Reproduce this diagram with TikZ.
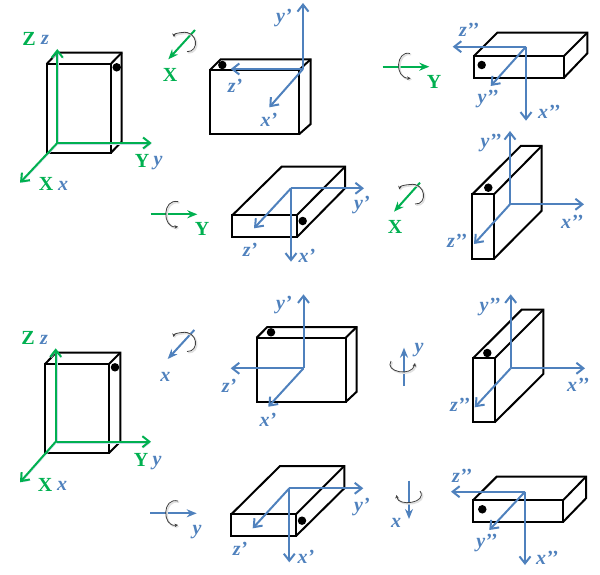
\documentclass[tikz,border=0pt]{standalone}
\usepackage{fontspec}
\setmainfont{Liberation Serif}
\usepackage{tikz}
\usetikzlibrary{arrows.meta}
\definecolor{axisgreen}{RGB}{0,176,80}
\definecolor{axisblue}{RGB}{79,129,189}
% front top-left x,y; front bottom-right x,y; back left x; back right x; back top y; back bottom y
\newcommand{\cuboid}[8]{
    \draw[edge] (#1,#2) rectangle (#3,#4);
    \draw[edge] (#1,#2) -- (#5,#7) -- (#6,#7) -- (#6,#8) -- (#3,#4);
    \draw[edge] (#3,#2) -- (#6,#7);
}
\begin{document}
\begin{tikzpicture}[x=1pt, y=-1pt,
        edge/.style={draw=black, line width=2pt, line join=miter},
        marker/.style={circle, fill=black, inner sep=0pt, minimum size=8.5pt},
        bluearr/.style={axisblue, line width=2pt, -{Straight Barb[length=7pt, width=11pt]}},
        greenarr/.style={axisgreen, line width=2pt, -{Straight Barb[length=7pt, width=11pt]},
            preaction={draw=axisblue!30, transform canvas={xshift=1pt, yshift=-1pt}}},
        bluerot/.style={axisblue, line width=2pt, -{Stealth[length=10pt, width=8pt]}},
        greenrot/.style={axisgreen, line width=2pt, -{Stealth[length=10pt, width=8pt]}},
        curl/.style={black!75, line width=0.8pt, -{Stealth[length=3.5pt, width=3.5pt]},
            preaction={draw=black!12, line width=1.6pt, transform canvas={xshift=1.2pt, yshift=-1.2pt}}},
        bluelbl/.style={font=\fontsize{20}{20}\selectfont\bfseries\itshape, text=axisblue, inner sep=0pt},
        greenlbl/.style={font=\fontsize{20}{20}\selectfont\bfseries, text=axisgreen, inner sep=0pt}
    ]
        \useasboundingbox (0,0) rectangle (600,575);

        % Upper row, start pose
        \cuboid{46.7}{64}{110.7}{153}{57.3}{121.7}{52.7}{141.7}
        \node[marker] (dotA) at (116.7,67.3) {};
        \coordinate (oA) at (57.3,143);
        \coordinate (zA) at (57.3,49);
        \coordinate (yA) at (151.7,143);
        \coordinate (xA) at (20,182.7);
        \draw[greenarr] (oA) -- (zA);
        \draw[greenarr] (oA) -- (yA);
        \draw[greenarr] (oA) -- (xA);
        \node[greenlbl] (ZA) at (29,39) {Z};
        \node[bluelbl] (zlA) at (45,40) {z};
        \node[greenlbl] (YA) at (142,161) {Y};
        \node[bluelbl] (ylA) at (158,163) {y};
        \node[greenlbl] (XA) at (46,184) {X};
        \node[bluelbl] (xlA) at (63,186) {x};

        % Upper row, first turn about X
        \coordinate (t1a) at (195,30);
        \coordinate (t1b) at (168.3,59.3);
        \draw[greenrot] (t1a) -- (t1b);
        \draw[curl] (187,51.7) .. controls (200,52) and (198,30) .. (182,32.5) .. controls (177,33) and (174,34) .. (174,37);
        \node[greenlbl] (t1l) at (170,75) {X};

        \cuboid{210}{70}{299}{134.3}{220.7}{310.7}{59.3}{124}
        \node[marker] (dotB) at (222.3,65) {};
        \coordinate (oB) at (303,69);
        \coordinate (yB) at (303,3);
        \coordinate (zB) at (230.7,69);
        \coordinate (xB) at (269.3,107.3);
        \draw[bluearr] (oB) -- (yB);
        \draw[bluearr] (oB) -- (zB);
        \draw[bluearr] (oB) -- (xB);
        \node[bluelbl] (ylB) at (284,18) {y’};
        \node[bluelbl] (zlB) at (235,86) {z’};
        \node[bluelbl] (xlB) at (269,120) {x’};

        % Upper row, second turn about Y
        \coordinate (t2a) at (382.7,66.7);
        \coordinate (t2b) at (429.3,66.7);
        \draw[greenrot] (t2a) -- (t2b);
        \draw[curl] (410,53.5) .. controls (396,50) and (394,78) .. (410.7,78.3);
        \node[greenlbl] (t2l) at (434,81.7) {Y};

        \cuboid{474}{56}{564}{77.7}{497.3}{587.3}{32.7}{53.3}
        \node[marker] (dotC) at (481.7,65) {};
        \coordinate (oC) at (526,46.7);
        \coordinate (zC) at (452.7,46.7);
        \coordinate (xC) at (526,120.7);
        \coordinate (yC) at (490.7,86);
        \draw[bluearr] (oC) -- (zC);
        \draw[bluearr] (oC) -- (xC);
        \draw[bluearr] (oC) -- (yC);
        \node[bluelbl] (zlC) at (469,30) {z’’};
        \node[bluelbl] (ylC) at (488,99) {y’’};
        \node[bluelbl] (xlC) at (549,112) {x’’};

        % Upper row, other order
        \coordinate (t3a) at (150.7,214.3);
        \coordinate (t3b) at (197.3,214.3);
        \draw[greenrot] (t3a) -- (t3b);
        \draw[curl] (178.3,201.7) .. controls (162,198) and (162,228) .. (178,226.7);
        \node[greenlbl] (t3l) at (202,229) {Y};

        \cuboid{232.3}{215.3}{296.7}{237.3}{281.7}{345}{166.7}{188.3}
        \node[marker] (dotD) at (302.7,221) {};
        \coordinate (oD) at (291,188.3);
        \coordinate (yD) at (364,188.3);
        \coordinate (xD) at (291,261.7);
        \coordinate (zD) at (254,228.3);
        \draw[bluearr] (oD) -- (yD);
        \draw[bluearr] (oD) -- (xD);
        \draw[bluearr] (oD) -- (zD);
        \node[bluelbl] (ylD) at (362,205) {y’};
        \node[bluelbl] (zlD) at (250,250) {z’};
        \node[bluelbl] (xlD) at (307,256) {x’};

        \coordinate (t4a) at (420,182.7);
        \coordinate (t4b) at (394,211.7);
        \draw[greenrot] (t4a) -- (t4b);
        \draw[curl] (415,204) .. controls (428,205) and (426,182) .. (410,184.5) .. controls (404,185) and (400,186) .. (399.3,189.5);
        \node[greenlbl] (t4l) at (395,227) {X};

        \cuboid{472.3}{194.3}{494}{258.7}{520.7}{541.7}{146}{210.7}
        \node[marker] (dotE) at (488.3,187.7) {};
        \coordinate (oE) at (510,204.3);
        \coordinate (yE) at (510,131);
        \coordinate (xE) at (584,204.3);
        \coordinate (zE) at (474,244);
        \draw[bluearr] (oE) -- (yE);
        \draw[bluearr] (oE) -- (xE);
        \draw[bluearr] (oE) -- (zE);
        \node[bluelbl] (ylE) at (491,143) {y’’};
        \node[bluelbl] (xlE) at (572,222) {x’’};
        \node[bluelbl] (zlE) at (457,241) {z’’};

        % Lower row, start pose
        \cuboid{45.3}{363.7}{109.3}{452.7}{56}{120.3}{352.7}{441.7}
        \node[marker] (dotF) at (115,367.3) {};
        \coordinate (oF) at (55.7,441.7);
        \coordinate (zF) at (55.7,348.3);
        \coordinate (yF) at (151,441.7);
        \coordinate (xF) at (20,482.3);
        \draw[greenarr] (oF) -- (zF);
        \draw[greenarr] (oF) -- (yF);
        \draw[greenarr] (oF) -- (xF);
        \node[greenlbl] (ZF) at (28,338) {Z};
        \node[bluelbl] (zlF) at (44,340) {z};
        \node[greenlbl] (YF) at (141,460) {Y};
        \node[bluelbl] (ylF) at (157,463) {y};
        \node[greenlbl] (XF) at (45,485) {X};
        \node[bluelbl] (xlF) at (62,486) {x};

        % Lower row, first turn about x
        \coordinate (t5a) at (194.3,330);
        \coordinate (t5b) at (167.7,359);
        \draw[bluerot] (t5a) -- (t5b);
        \draw[curl] (187,351.5) .. controls (200,352) and (198,330) .. (182,332.5) .. controls (177,333) and (174,334) .. (173.5,337);
        \node[bluelbl] (t5l) at (165.3,376.7) {x};

        \cuboid{256.7}{337.7}{345.7}{402}{267.3}{356.7}{327}{391.7}
        \node[marker] (dotG) at (271,332.3) {};
        \coordinate (oG) at (303.5,368.3);
        \coordinate (yG) at (303.5,294.3);
        \coordinate (zG) at (230.7,368.3);
        \coordinate (xG) at (268.3,406.7);
        \draw[bluearr] (oG) -- (yG);
        \draw[bluearr] (oG) -- (zG);
        \draw[bluearr] (oG) -- (xG);
        \node[bluelbl] (ylG) at (284,305) {y’};
        \node[bluelbl] (zlG) at (229,386) {z’};
        \node[bluelbl] (xlG) at (268,420) {x’};

        % Lower row, second turn about y
        \coordinate (t6a) at (404,386);
        \coordinate (t6b) at (404,347.7);
        \draw[bluerot] (t6a) -- (t6b);
        \draw[curl] (391,361) .. controls (384,372) and (412,377) .. (415,363);
        \node[bluelbl] (t6l) at (419,350) {y};

        \cuboid{473}{358.3}{494.7}{422.3}{521.7}{543.3}{309.7}{374}
        \node[marker] (dotH) at (487.3,353) {};
        \coordinate (oH) at (510.7,368.3);
        \coordinate (yH) at (510.7,294.3);
        \coordinate (xH) at (585,368.3);
        \coordinate (zH) at (474.7,407.3);
        \draw[bluearr] (oH) -- (yH);
        \draw[bluearr] (oH) -- (xH);
        \draw[bluearr] (oH) -- (zH);
        \node[bluelbl] (ylH) at (490,307) {y’’};
        \node[bluelbl] (xlH) at (578,385) {x’’};
        \node[bluelbl] (zlH) at (460,405) {z’’};

        % Lower row, other order
        \coordinate (t7a) at (150,513.3);
        \coordinate (t7b) at (196.7,513.3);
        \draw[bluerot] (t7a) -- (t7b);
        \draw[curl] (178,501) .. controls (162,497) and (162,527) .. (178,525);
        \node[bluelbl] (t7l) at (197,531.7) {y};

        \cuboid{231.3}{514.3}{296}{536}{280}{344.3}{466}{488.3}
        \node[marker] (dotI) at (302,520.7) {};
        \coordinate (oI) at (289.3,488.3);
        \coordinate (yI) at (363.3,488.3);
        \coordinate (xI) at (289.3,562.3);
        \coordinate (zI) at (252.7,528.3);
        \draw[bluearr] (oI) -- (yI);
        \draw[bluearr] (oI) -- (xI);
        \draw[bluearr] (oI) -- (zI);
        \node[bluelbl] (ylI) at (362,507) {y’};
        \node[bluelbl] (zlI) at (240,549) {z’};
        \node[bluelbl] (xlI) at (306,557) {x’};

        \coordinate (t8a) at (409,480.7);
        \coordinate (t8b) at (409,519);
        \draw[bluerot] (t8a) -- (t8b);
        \draw[curl] (420,491) .. controls (428,503) and (398,507) .. (396.5,495);
        \node[bluelbl] (t8l) at (396,523.3) {x};

        \cuboid{473.3}{500}{563.3}{521.7}{496.7}{586}{476.7}{498.3}
        \node[marker] (dotJ) at (482.3,509.3) {};
        \coordinate (oJ) at (525,491.7);
        \coordinate (zJ) at (451,491.7);
        \coordinate (xJ) at (525,565);
        \coordinate (yJ) at (489.3,530);
        \draw[bluearr] (oJ) -- (zJ);
        \draw[bluearr] (oJ) -- (xJ);
        \draw[bluearr] (oJ) -- (yJ);
        \node[bluelbl] (zlJ) at (462,475.7) {z’’};
        \node[bluelbl] (ylJ) at (486.7,543) {y’’};
        \node[bluelbl] (xlJ) at (547,557.7) {x’’};
    \end{tikzpicture}
\end{document}
